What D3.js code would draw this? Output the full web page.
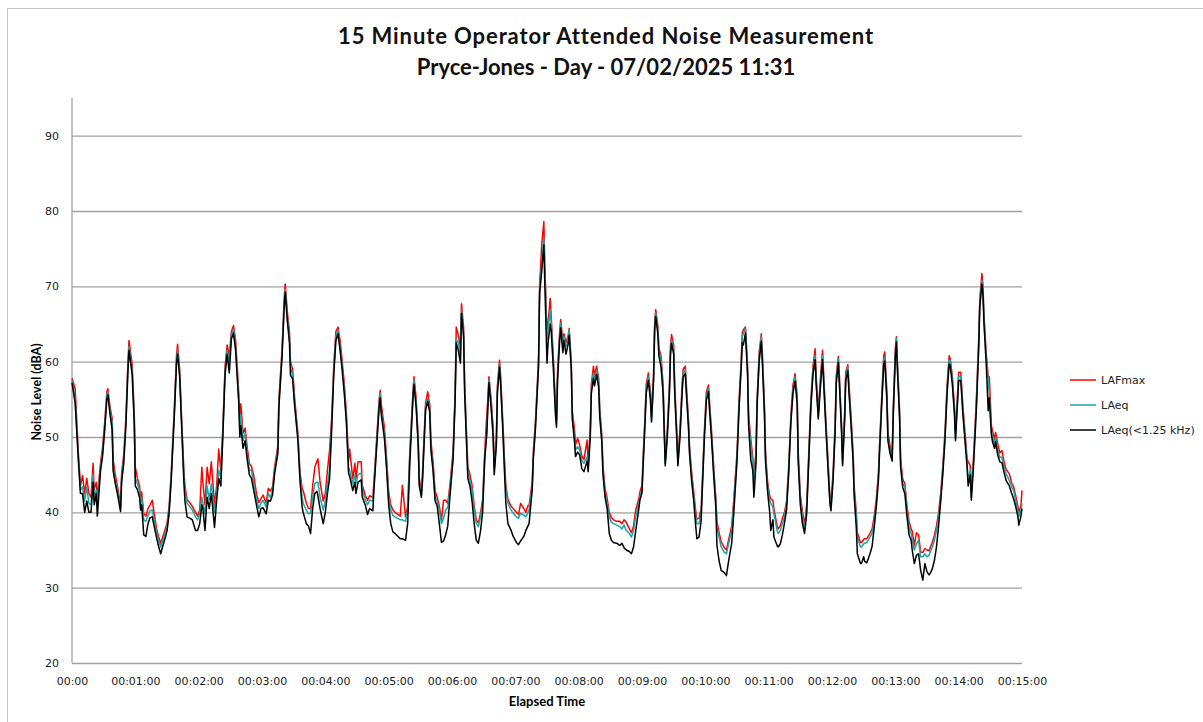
<!DOCTYPE html>
<html>
<head>
<meta charset="utf-8">
<script src="https://cdn.jsdelivr.net/npm/d3@7"></script>
<style>
  body { margin: 0; background: #fff; }
  svg { display: block; }
</style>
</head>
<body>
<div id="chart"></div>
<script>
// elapsed seconds for every reading
const seconds = [
  0,3,6,8,10,12,14,16,18,20,21,23,24,27,29,31,33,34,36,38,39,41,43,46,47,49,51,53,54,57,59,60,
  62,64,65,66,68,70,72,74,76,80,82,84,87,90,92,94,97,99,100,102,104,106,107,109,112,114,117,119,121,
  123,124,126,128,130,132,135,137,139,141,143,145,147,149,151,153,155,158,159,160,162,164,166,168,170,172,175,177,179,181,
  184,186,188,190,192,195,196,199,201,202,204,206,207,209,211,214,216,218,219,222,224,226,228,230,232,233,235,238,240,242,244,246,
  248,250,252,254,256,258,260,262,263,266,268,269,271,274,275,278,280,282,285,286,289,291,292,293,296,298,300,302,304,306,
  311,313,316,318,320,323,324,326,328,329,331,332,334,335,337,339,340,342,344,346,348,350,352,354,356,358,361,363,364,366,368,369,371,372,
  375,377,379,381,383,385,387,389,391,393,394,395,397,399,400,402,403,405,406,408,410,411,413,416,418,421,423,425,428,430,432,433,436,437,
  439,442,443,445,447,448,450,451,453,454,456,458,459,460,462,463,465,466,468,470,471,473,474,476,477,479,481,483,485,488,489,491,492,494,495,497,499,500,
  502,503,505,507,509,511,513,516,519,521,523,525,528,530,532,534,537,538,540,541,543,544,546,548,549,551,552,553,555,556,558,560,561,562,564,
  566,567,568,570,571,573,574,576,578,579,581,582,584,585,587,589,591,592,594,596,597,599,601,603,604,606,608,610,611,613,615,618,620,622,625,627,
  630,632,634,635,636,638,640,641,643,645,646,648,649,651,653,654,656,657,659,661,662,664,665,668,669,671,673,675,677,679,681,683,685,687,688,690,
  692,694,696,698,700,702,704,705,707,709,711,712,714,716,718,719,721,723,724,726,727,729,730,732,733,735,736,738,740,741,743,744,747,748,750,751,
  753,756,758,760,762,764,765,767,769,770,772,773,775,777,778,780,781,782,784,785,787,789,791,793,795,796,798,800,802,804,806,808,810,812,813,
  815,817,819,821,823,825,827,829,831,832,834,836,837,839,840,842,844,846,848,849,851,852,854,856,857,859,860,862,863,864,866,868,869,871,872,874,875,
  877,879,881,883,885,888,890,892,894,896,897,899,900
];

const lafmax = [
  57.8,56.4,48,43.5,44.9,42.5,44.5,42.5,42,46.5,43,44,42,46.5,48.7,52,56,56.4,54,52.5,47,45,43.5,41,45.2,47.6,52.4,60,62.8,59.6,53,46,
  44.5,43.5,42,42.7,39.8,39.5,40.5,41,41.6,37.9,36.8,35.9,37.2,38.5,40.8,45.2,54,60.8,62.3,59,52,45.5,43.5,41.7,41.2,40.8,40,39.5,40.3,
  46,44,41,46,43.8,46.7,41,43.5,48.4,45.5,51.5,59.4,62.2,60.8,64,64.8,62.8,55.8,51.8,54.4,50.5,51.2,48.6,46.5,46.1,45,42.3,41.3,41.8,42.3,
  41.2,43.2,42.8,43.4,46.1,48.8,55,61.7,68.3,70.3,66.6,64,60,59,55,50.6,45.3,43.2,42.9,41.2,40.5,40.5,43.5,46,46.8,47.1,44,41.5,42.5,45.6,48.2,52.5,
  59.5,64,64.6,62.8,60,57,53,46.8,48.4,44.5,46.5,44.5,46.7,46.7,43.6,42.2,41.6,42.2,42,44,50.6,55,56.2,54.3,51.2,47.2,42.7,41,40.3,40,
  39.5,43.6,39.4,40.8,47.9,56,58,55.2,50,44.5,42.8,45,51.5,54.6,56,54.2,49.5,46.8,42.8,42,40.8,39,41.6,41.6,41.2,43.6,48,56,64.6,63.5,61.8,67.7,64.5,57,
  46.1,45,43.6,40.9,39,38.6,39.9,41.7,48,53.1,55,58,55.2,51.2,46.2,49.8,56.8,60.2,58.3,52.5,46.2,43.6,41.7,40.8,40.5,40,39.7,41.2,40.5,40,40.9,40.9,44,48,
  52,60.5,70.2,75.5,78.6,72.5,64,65,68.4,66,60.5,54.2,52.4,58.8,64,65.6,62.6,63.7,62.5,63.4,64.4,60,53.4,51.1,49,49.8,48.9,47.5,47,49.6,46.6,51.1,57,59.4,58.2,59.4,57.7,53.7,
  50.2,46.2,43.1,41.8,40,39.3,39,38.8,38.8,38.5,39,38.7,37.8,37.3,38.2,40.3,41.8,42.7,43.6,47.1,53.3,57,58.5,56,53,58.6,65.3,66.9,64.8,61.8,60.8,57,52,47,51.1,
  57,62.2,63.6,62.2,57,50.6,47,51.1,57,59,59.4,57,52.4,48.9,45.3,42.7,40,39.1,39.2,40.5,43.6,50.6,56,56.9,54.6,50.6,45.8,41.8,38.8,37.3,36.1,35.3,35,36.3,38.2,41.8,
  47.9,55,60.3,63.8,64.2,64.6,59.5,52.9,49.8,47.2,45,48,55,61.2,63.7,61.3,54.2,48,44,42.2,41.8,41.6,40.4,38.2,37.8,38.2,39.2,40,41.5,46.2,52.8,56.9,58.4,55.6,48,42.3,
  40.1,38.3,41,48,55,59.4,61.7,58.2,53.3,57.8,61.5,58.7,52.8,47.5,42.2,41.1,45.3,51.9,58.1,60.7,58.1,51.9,47.1,53.3,58.6,59.6,57.2,52.8,47.9,43.5,40,37.3,36,36,36.4,36.5,
  36.5,37.2,37.8,39.5,41.8,45.2,48.8,55,60.8,61.3,56,50.6,48.8,47.7,53.7,61.7,63.3,60,53.7,47.1,44.4,43.8,40.9,38.8,37.8,37.5,35.6,37.3,37,34.7,34.7,35.2,35,34.9,35.3,
  36,36.9,38.2,40,42.6,46.2,50.6,56.8,60.8,60.4,58.1,54.1,50.6,55.9,58.6,58.6,54.1,50.6,47.1,46.7,46.2,42.6,47.1,52.8,55.9,63,68.3,71.7,70.2,66.2,61.3,58,58,51.5,50.9,49.7,50.6,
  49.1,47.9,48.2,46.7,45.7,45.1,44,43.4,42.2,40.9,40,40.9,42.9
];

const laeq = [
  57.5,55,47.3,42.9,43.4,41.5,43.4,41.2,41,45,41.7,43,41,46,48,51.3,55.5,56,53.5,52,46,44.2,42.9,40.5,44.5,47,51.8,59.3,62,58.8,52.2,44.5,
  43.8,42.9,41.2,42,39,38.8,39.6,40.2,40.3,37.4,36.3,35.4,36.7,38,40.3,44.7,53.5,60.2,61.5,58.4,51.3,44.7,42.9,41.2,40.7,40.3,39.4,39,39.8,
  42,41.2,39.8,43.5,41.7,43.8,40,42.5,45.6,44.5,50.9,58.8,61.5,60,63.5,64.3,62,55,51,53,49.5,50.5,47.8,45.6,45.6,43.8,41.6,40.5,41.2,41.6,
  40.7,42.5,42,42.9,45.6,48.2,54.4,61.1,67.7,69.6,65.9,63.3,59.5,58.2,54.4,50,44.7,42,41.2,40.3,39.8,39.9,42,43.8,44,44,42,40.3,41.5,43.8,45.6,51.8,
  58.8,63.3,64.2,62,59.3,56.2,52.2,46,45.6,43.8,45,43.8,45,45.2,42.9,41.6,41,41.6,41.5,43.4,50,54.4,55.8,53.5,50.4,46.5,42,40.3,39.6,39.4,
  39,39,38.8,40.3,47.4,55.4,57.6,54.5,49.2,43.8,42.3,44.3,50.9,54,55.1,53.6,48.7,46.1,42.1,41.4,40.3,38.5,39.2,40.3,40.7,43,47.4,55.4,63,62.5,61,66.9,63.8,56.2,
  45.2,44.3,43,40.3,38.5,38.1,39.4,41.2,47.4,50.9,54.5,57.6,54.5,50.5,45.6,49.2,56.2,59.8,57.6,51.8,45.2,43,41.2,40.3,39.9,39.4,39.2,39.9,39.6,39.4,40,40.3,43.4,47.4,
  51.4,59.8,69.5,73,76.5,71.7,62.9,64.2,66.9,65.1,59.8,53.6,51.8,58,63.3,65.1,62,63.3,62,62.9,64.2,59.4,52.7,50,48.3,48.7,48.3,46.9,46.5,47.4,46,50.5,56.3,58.5,57.6,58.9,57.1,53.1,
  49.6,45.6,42.5,41.2,39.4,38.7,38.5,38.3,38.1,37.8,38.3,37.6,37.2,36.7,37.6,39.4,41.2,42.1,43,46.5,52.7,56.3,58,55.4,52.3,58,64.7,66.5,64.2,61.5,60.2,56.3,51.4,46.5,50.5,
  56.3,61.6,62.9,61.6,56.3,50,46.5,50.5,56.3,58.5,58.9,56.3,51.8,48.3,44.7,42.1,39.4,38.5,38.5,39.8,43,50,55.4,56.5,54,50,45.2,41.2,38,36.7,35.4,34.7,34.5,35.8,37.6,41.2,
  47.3,54.4,59.7,63.3,63.7,64.4,58.8,52.2,49.1,46.5,44.2,47.3,54.4,60.6,63.3,60.6,53.5,47.3,43.4,41.6,41.2,40.7,39.8,37.6,37.2,37.6,38.5,39.4,41.2,45.6,52.2,56.2,58,54.9,47.3,41.6,
  39.4,37.6,40.3,47.3,54.4,58.8,60.8,57.5,52.7,57.1,60.8,58,52.2,46.9,41.6,40.5,44.7,51.3,57.5,60.4,57.5,51.3,46.5,52.7,58,59.3,56.6,52.2,47.3,42.9,39.4,36.7,35.4,35.4,35.8,35.9,
  36,36.7,37.2,38.9,41.2,44.7,48.2,54.4,60.2,60.6,55.3,50,48.2,47.1,53.1,61.1,63.1,59.3,53.1,46.5,43.8,43.4,40.3,38,37.2,36.3,35,35.8,36.3,34.1,34.1,34.5,34.1,34.3,34.7,
  35.4,36.3,37.6,39.4,42,45.6,50,56.2,60.2,60.2,57.5,53.5,50,55.3,58,58,53.5,50,46.5,44.2,45.6,42,46.5,52.2,55.3,62.4,67.7,70.8,69.5,65.5,60.6,57.5,55.8,50.9,50,49.1,50,
  48.2,47.3,47.3,46,45.1,44.2,43.4,42.9,41.6,40.3,39.4,40.3,41.2
];

const laeqLow = [
  57.2,54.5,47,42.5,42.5,40,41.5,40,40,44,41,42.5,39.5,45.5,47.5,51,55,55.6,53,51,45.5,43.8,42.5,40.1,44,46.5,51.3,58.8,61.5,58.3,51.8,43.5,
  43,42,40.3,41,37,36.8,38.5,39.3,39.4,36.7,35.5,34.5,36,37.5,39.8,44.3,53,59.7,61,58,51,44,41.5,39.4,39.2,39,37.6,37.6,38.5,
  41,40.5,37.6,42,40.5,42.5,38,41.5,44.5,43.5,50.4,58.3,61,58.5,63,63.8,61.5,54.5,50,51.5,48.5,49.5,47,45,44.5,43,40.8,39.4,40.5,40.6,
  39.8,41.6,41.5,42.3,45.2,47.8,54,60.6,67.2,69.2,65.4,62.5,58.2,57.7,54,49.6,44.2,40.7,40,38.5,38.2,37.2,40.5,42.5,42.8,42.2,40.5,38.5,40,42.5,44.5,51,
  58.3,62.8,63.7,61.5,58.8,55.7,51.8,45.2,44.8,42.9,44,42.5,44,44.3,42,40.9,39.7,40.5,40.2,42.8,49.5,54,55.2,53,49.8,45.8,41,38.5,37.4,37.2,
  36.5,36.5,36.3,38.5,46.5,55,57,54,48.8,43.5,42,44,50.5,53.6,54.7,53.2,48.3,45.6,41.5,40.8,38.5,36,36.2,37,38.2,42,47,55,62.5,61.5,59.8,66.4,63.3,55.8,
  44.5,43.5,41.5,38.5,36.3,35.9,37.5,40,47,50.5,54,57.2,54,50,45,48.8,55.8,59.3,57.2,51.3,44.5,41.2,38.5,37.6,36.8,36,35.7,36.2,36.8,37.6,38.2,38.5,43,47,
  51,59.4,69,72,75.5,70,59.8,62.5,65,64,59.2,53,51.3,57.5,62.8,64.5,61.2,62.8,61,62.3,63.5,59,52.3,49.5,47.4,48,47.6,45.8,45.4,46.8,45.4,50,55.8,57.8,56.8,58.3,56.5,52.6,
  49.2,45.1,42,40.5,37.2,36.3,36,35.9,35.6,35.9,35.3,35,34.8,34.5,35.4,37.5,40.5,41.6,42.6,46,52.2,55.8,57.5,54.9,52,57.5,64.2,66,63.7,60.8,59.3,55.8,51,46.2,50,
  55.8,61,62.4,61,55.8,49.6,46.2,50,55.8,58,58.4,55.8,51.3,47.8,44.2,41.5,38,36.5,36.7,38.8,42.5,49.5,54.9,56,53.5,49.5,44.7,40.5,35.6,33.6,32.3,32,31.6,33.5,35.9,40,
  46.8,54,59.2,62.5,62.2,63.8,58.3,51.5,47,45.5,42,46.5,54,60,62.7,60,53,46.8,42.7,40,37.6,39,36.7,35.6,35.4,35.8,37,38.6,40.4,45.2,51.8,55.8,57.4,54.4,46.8,41,
  38.5,37.2,39.8,46.8,54,58.3,60.3,57,52.4,56.6,60.3,57.5,51.7,46.4,41.2,40.2,44.2,50.8,57,59.9,57,50.8,46.2,52.2,57.5,58.8,56.1,51.7,46.8,42.2,38,34.5,33.2,33.2,34.1,33.5,
  33.3,34.5,35.5,38,40.8,44.3,47.8,54,59.7,60.1,54.8,49.5,47.8,46.8,52.6,60.6,62.6,58.8,52.6,46,43.3,42.5,39.5,37,36.3,35,33.2,34.3,34.5,32.3,31,33.2,32.1,31.7,31.9,
  32.5,33.6,35.4,38.2,41.5,45.1,49.5,55.7,59.7,59.5,57,53,49.5,54.8,57.5,57.5,53,49.5,46,43.5,45,41.6,46,51.5,54.4,61.9,67.2,70.3,69,65,60,53.5,55.2,50.3,49.4,48.5,49.4,
  47.6,46.7,46.6,45.3,44.2,43.5,42.6,41.8,40.8,39.5,38.3,39.5,40.5
];

const seriesNames = ['LAFmax', 'LAeq', 'LAeq(<1.25 kHz)'];
const seriesColors = ['#ff0000', '#1aa6a6', '#000000'];

const xTickSeconds = [0,60,120,180,240,300,360,420,480,540,600,660,720,780,840,900];
const xTickLabels = ['00:00','00:01:00','00:02:00','00:03:00','00:04:00','00:05:00','00:06:00','00:07:00',
  '00:08:00','00:09:00','00:10:00','00:11:00','00:12:00','00:13:00','00:14:00','00:15:00'];
const yTicks = [20,30,40,50,60,70,80,90];

const W = 1203, H = 722;
const plot = { left: 72, right: 1022, top: 98, bottom: 663 };

const svg = d3.select('#chart').append('svg').attr('width', W).attr('height', H);

// chart frame
svg.append('rect').attr('x', 7.5).attr('y', 8.5).attr('width', W).attr('height', H)
  .attr('fill', 'none').attr('stroke', '#c4c4c4').attr('stroke-width', 1);

const x = d3.scaleLinear().domain([0, 900]).range([plot.left, plot.right]);
const y = d3.scaleLinear().domain([20, 95]).range([plot.bottom, plot.top]);

// gridlines + y labels
const yAxis = svg.append('g').attr('transform', `translate(${plot.left},0)`)
  .call(d3.axisLeft(y).tickValues(yTicks).tickSize(-(plot.right - plot.left)).tickPadding(13));
yAxis.select('.domain').remove();
yAxis.selectAll('.tick line').attr('stroke', '#a0a0a0').attr('stroke-width', 1.3);
yAxis.selectAll('.tick text').attr('fill', '#222').style('font-family', 'DejaVu Sans').style('font-size', '11px');

svg.append('line').attr('x1', plot.left).attr('x2', plot.left)
  .attr('y1', plot.top).attr('y2', plot.bottom)
  .attr('stroke', '#a0a0a0').attr('stroke-width', 1.3);

const xAxis = svg.append('g').attr('transform', `translate(0,${plot.bottom})`)
  .call(d3.axisBottom(x).tickValues(xTickSeconds).tickFormat((d, i) => xTickLabels[i]).tickSize(0).tickPadding(14));
xAxis.select('.domain').remove();
xAxis.selectAll('.tick text').attr('fill', '#222').style('font-family', 'DejaVu Sans').style('font-size', '11px');

// series, drawn red -> teal -> black
const allSeries = [lafmax, laeq, laeqLow];
const line = d3.line().x((d, i) => x(seconds[i])).y(d => y(d));
allSeries.forEach((vals, k) => {
  svg.append('path').datum(vals)
    .attr('d', line)
    .attr('fill', 'none')
    .attr('stroke', seriesColors[k])
    .attr('stroke-width', 1.5)
    .attr('stroke-linejoin', 'round');
});

// titles
const title = svg.append('text').attr('x', 606).attr('text-anchor', 'middle')
  .style('font-family', 'Lato').style('font-weight', 'bold').style('font-size', '22px').attr('fill', '#111');
title.append('tspan').attr('x', 606).attr('y', 44).style('letter-spacing', '0.9px')
  .text('15 Minute Operator Attended Noise Measurement');
title.append('tspan').attr('x', 606).attr('y', 75).text('Pryce-Jones - Day - 07/02/2025 11:31');

svg.append('text').attr('transform', 'translate(37,392) rotate(-90)')
  .attr('text-anchor', 'middle').attr('dy', '0.35em')
  .style('font-family', 'Lato').style('font-weight', 'bold').style('font-size', '12.5px')
  .text('Noise Level (dBA)');

svg.append('text').attr('x', (plot.left + plot.right) / 2).attr('y', 706)
  .attr('text-anchor', 'middle')
  .style('font-family', 'Lato').style('font-weight', 'bold').style('font-size', '13px')
  .text('Elapsed Time');

// legend
const legend = svg.append('g').attr('transform', 'translate(1070,380)');
seriesNames.forEach((name, i) => {
  const row = legend.append('g').attr('transform', `translate(0,${i * 25})`);
  row.append('line').attr('x1', 0).attr('x2', 26).attr('y1', 0).attr('y2', 0)
    .attr('stroke', seriesColors[i]).attr('stroke-width', 1.5);
  row.append('text').attr('x', 31).attr('dy', '0.35em')
    .style('font-family', 'DejaVu Sans').style('font-size', '11px').attr('fill', '#222')
    .text(name);
});
</script>
</body>
</html>
